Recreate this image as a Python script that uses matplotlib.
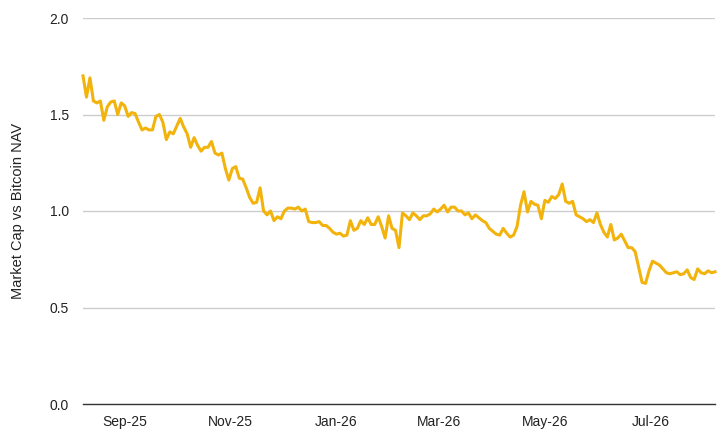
import numpy as np
import pandas as pd
import matplotlib
matplotlib.use("Agg")
import matplotlib.pyplot as plt
import matplotlib.dates as mdates

# ratio, one value every 2 days starting 2025-08-08
start_date = "2025-08-08"
step_days = 2
ratio = [
    1.70, 1.59, 1.69, 1.57, 1.56, 1.57, 1.47, 1.54, 1.565, 1.57,
    1.50, 1.56, 1.545, 1.49, 1.51, 1.505, 1.46, 1.42, 1.43, 1.42,
    1.42, 1.49, 1.50, 1.46, 1.37, 1.41, 1.40, 1.44, 1.48, 1.435,
    1.40, 1.33, 1.38, 1.34, 1.31, 1.33, 1.33, 1.36, 1.30, 1.29,
    1.30, 1.22, 1.16, 1.22, 1.23, 1.17, 1.165, 1.12, 1.07, 1.04,
    1.045, 1.12, 1.00, 0.98, 1.00, 0.95, 0.97, 0.96, 1.00, 1.015,
    1.015, 1.01, 1.02, 1.00, 1.01, 0.945, 0.94, 0.94, 0.945, 0.925,
    0.925, 0.91, 0.89, 0.88, 0.885, 0.87, 0.875, 0.95, 0.90, 0.91,
    0.95, 0.93, 0.965, 0.93, 0.93, 0.97, 0.92, 0.86, 0.975, 0.91,
    0.90, 0.81, 0.99, 0.975, 0.955, 0.99, 0.975, 0.955, 0.975, 0.975,
    0.985, 1.01, 0.995, 1.01, 1.03, 0.995, 1.02, 1.02, 1.00, 1.00,
    0.98, 0.99, 0.96, 0.98, 0.965, 0.95, 0.94, 0.91, 0.895, 0.88,
    0.875, 0.91, 0.885, 0.865, 0.875, 0.92, 1.03, 1.10, 0.995, 1.05,
    1.035, 1.03, 0.96, 1.055, 1.045, 1.075, 1.065, 1.085, 1.14, 1.05,
    1.04, 1.05, 0.98, 0.97, 0.96, 0.945, 0.955, 0.94, 0.99, 0.93,
    0.89, 0.865, 0.93, 0.85, 0.86, 0.88, 0.845, 0.81, 0.81, 0.79,
    0.71, 0.63, 0.625, 0.69, 0.74, 0.73, 0.72, 0.70, 0.68, 0.675,
    0.68, 0.685, 0.67, 0.675, 0.695, 0.655, 0.645, 0.70, 0.68, 0.675,
    0.69, 0.68, 0.685,
]
y_ticks = [0.0, 0.5, 1.0, 1.5, 2.0]
y_label = "Market Cap vs Bitcoin NAV"

dates = pd.date_range(start_date, periods=len(ratio), freq=f"{step_days}D")

plt.rcParams["font.family"] = ["Liberation Sans", "DejaVu Sans"]

fig = plt.figure(figsize=(7.26, 4.37), dpi=100)
ax = fig.add_axes([83 / 726, 1 - 404 / 437, (715 - 83) / 726, (404 - 18) / 437])

ax.plot(dates, ratio, color="#F2B30C", linewidth=2.2, solid_joinstyle="round",
        clip_on=False)

ax.set_xlim(dates[0], dates[-1])
ax.set_ylim(0, 2)
ax.set_yticks(y_ticks)
ax.set_yticklabels([f"{v:.1f}" for v in y_ticks])
ax.xaxis.set_major_locator(mdates.MonthLocator(bymonth=[1, 3, 5, 7, 9, 11]))
ax.xaxis.set_major_formatter(mdates.DateFormatter("%b-%y"))

ax.grid(axis="y", color="#cccccc", linewidth=1)
ax.set_axisbelow(True)
for side in ["top", "right", "left"]:
    ax.spines[side].set_visible(False)
ax.spines["bottom"].set_color("#333333")
ax.spines["bottom"].set_linewidth(1)
ax.spines["bottom"].set_zorder(0.5)
ax.tick_params(axis="both", length=0, labelsize=10, labelcolor="#222222")
ax.tick_params(axis="x", pad=8)
ax.tick_params(axis="y", pad=10)
ax.set_ylabel(y_label, fontsize=10.5, color="#222222", labelpad=18)

fig.savefig("out.png", dpi=100)
